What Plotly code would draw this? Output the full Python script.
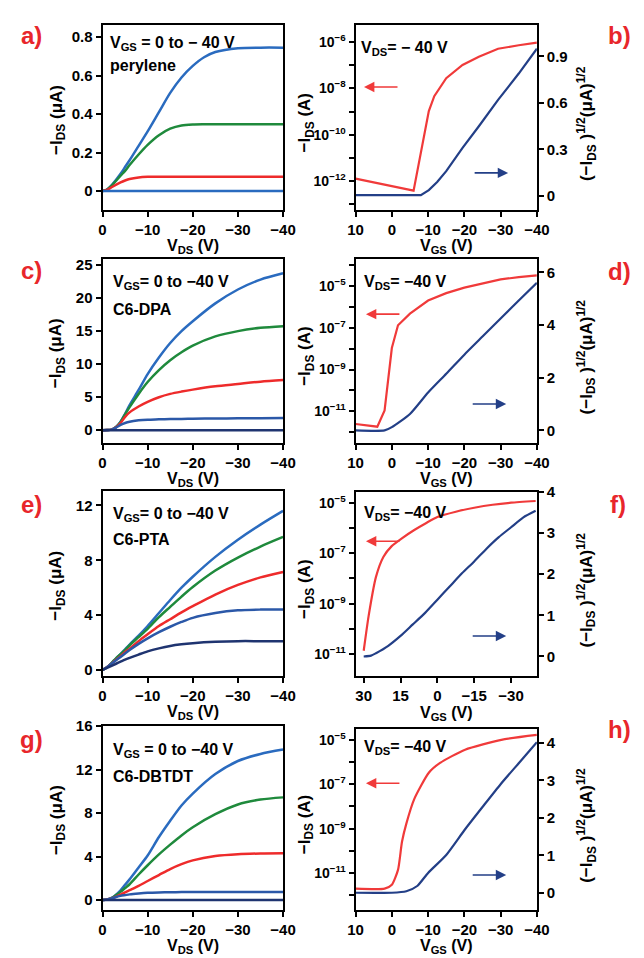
import plotly.graph_objects as go

W, H = 644, 958
FONT = "Arial, Liberation Sans, sans-serif"

# ---------------- data ----------------
# output characteristics (left panels), -I_DS in uA vs V_DS
a_vds = [0, -1, -2, -4, -5, -6, -8, -10, -12.5, -15, -17.5, -20, -22.5, -25, -30, -35, -40]
a_blue = [0, 0.008, 0.03, 0.09, 0.125, 0.16, 0.235, 0.31, 0.41, 0.51, 0.59, 0.65, 0.695, 0.722, 0.742, 0.745, 0.745]
a_green = [0, 0.008, 0.028, 0.08, 0.105, 0.135, 0.19, 0.24, 0.29, 0.324, 0.341, 0.346, 0.347, 0.347, 0.347, 0.347, 0.347]
a_red = [0, 0.006, 0.02, 0.045, 0.055, 0.063, 0.071, 0.074, 0.075, 0.075, 0.075, 0.075, 0.075, 0.075, 0.075, 0.075, 0.075]
a_base = [0, 0, 0, 0, 0, 0, 0, 0, 0, 0, 0, 0, 0, 0, 0, 0, 0]

ceg_vds = [0, -1, -2, -3, -4, -5, -6, -8, -10, -12.5, -15, -17.5, -20, -25, -30, -35, -40]
c_blue = [0, 0.02, 0.1, 0.5, 1.3, 2.5, 3.8, 6.1, 8.5, 11.0, 13.2, 15.0, 16.5, 19.2, 21.3, 22.8, 23.75]
c_green = [0, 0.02, 0.1, 0.5, 1.25, 2.4, 3.5, 5.5, 7.3, 9.1, 10.6, 11.8, 12.8, 14.2, 15.0, 15.5, 15.75]
c_red = [0, 0.02, 0.1, 0.45, 1.1, 2.0, 2.7, 3.6, 4.3, 5.0, 5.5, 5.85, 6.15, 6.65, 7.0, 7.35, 7.6]
c_blue2 = [0, 0.02, 0.1, 0.4, 0.8, 1.1, 1.3, 1.5, 1.6, 1.65, 1.7, 1.72, 1.75, 1.78, 1.8, 1.83, 1.85]
c_navy = [0, 0, 0, 0, 0, 0, 0, 0, 0, 0, 0, 0, 0, 0, 0, 0, 0]

e_blue = [0, 0.2, 0.5, 0.85, 1.15, 1.5, 1.85, 2.5, 3.2, 4.15, 5.1, 6.0, 6.8, 8.25, 9.5, 10.6, 11.6]
e_green = [0, 0.2, 0.5, 0.85, 1.15, 1.45, 1.8, 2.4, 3.0, 3.85, 4.6, 5.35, 6.05, 7.25, 8.2, 9.0, 9.7]
e_red = [0, 0.2, 0.45, 0.75, 1.0, 1.3, 1.55, 2.1, 2.6, 3.2, 3.7, 4.2, 4.65, 5.5, 6.2, 6.75, 7.15]
e_blue2 = [0, 0.2, 0.45, 0.7, 0.95, 1.2, 1.45, 1.9, 2.3, 2.75, 3.15, 3.5, 3.8, 4.15, 4.35, 4.4, 4.4]
e_navy = [0, 0.15, 0.3, 0.45, 0.6, 0.75, 0.88, 1.12, 1.35, 1.57, 1.75, 1.87, 1.95, 2.05, 2.1, 2.1, 2.1]

g_blue = [0, 0.05, 0.2, 0.5, 0.9, 1.4, 1.9, 3.0, 4.1, 5.8, 7.3, 8.7, 9.8, 11.6, 12.8, 13.45, 13.85]
g_green = [0, 0.05, 0.18, 0.45, 0.75, 1.1, 1.45, 2.35, 3.2, 4.2, 5.1, 5.95, 6.7, 7.9, 8.8, 9.25, 9.45]
g_red = [0, 0.04, 0.14, 0.3, 0.5, 0.7, 0.9, 1.3, 1.75, 2.3, 2.85, 3.3, 3.65, 4.05, 4.22, 4.28, 4.3]
g_blue2 = [0, 0.04, 0.14, 0.28, 0.38, 0.45, 0.52, 0.6, 0.66, 0.7, 0.72, 0.73, 0.73, 0.73, 0.73, 0.73, 0.73]
g_navy = [0, 0, 0, 0, 0, 0, 0, 0, 0, 0, 0, 0, 0, 0, 0, 0, 0]

# transfer characteristics (right panels): -I_DS (A) log, sqrt(-I_DS) (uA^1/2)
b_vgs_log = [10, -6, -10.2, -11.7, -15, -19.5, -24, -29.3, -35, -40]
b_ids = [1.3e-12, 3.9e-13, 1.05e-9, 4.6e-9, 2.75e-8, 1.02e-7, 2.3e-7, 5.1e-7, 7.2e-7, 9.3e-7]
b_vgs_sqrt = [10, -8, -10.2, -12.5, -15, -19.5, -24, -29.3, -35, -40]
b_sqrt = [0.005, 0.005, 0.038, 0.09, 0.16, 0.31, 0.45, 0.62, 0.79, 0.95]

d_vgs_log = [10, 4, 2, 0, -1.7, -5, -10, -15, -20, -25, -30, -35, -40]
d_ids = [2.5e-12, 1.86e-12, 1.12e-11, 1.07e-8, 1.32e-7, 4.7e-7, 2.0e-6, 4.5e-6, 8.3e-6, 1.32e-5, 2.04e-5, 2.63e-5, 3.16e-5]
d_vgs_sqrt = [10, 2, 0, -5, -10, -15, -20, -25, -30, -35, -40]
d_sqrt = [0.0, 0.0, 0.125, 0.625, 1.44, 2.15, 2.875, 3.56, 4.25, 4.93, 5.6]

f_vgs_log = [30, 28, 25, 22, 18.6, 14.6, 9.4, 4.5, 0, -7.5, -15, -22.5, -30, -40]
f_ids = [1.35e-11, 3.2e-10, 1.15e-8, 7.1e-8, 1.9e-7, 3.8e-7, 8.3e-7, 1.58e-6, 2.7e-6, 4.4e-6, 6.3e-6, 8.3e-6, 1.0e-5, 1.17e-5]
f_vgs_sqrt = [30, 27, 25, 20, 15, 10, 5, 0, -5, -10, -15, -20, -25, -30, -35, -40]
f_sqrt = [0.0, 0.02, 0.08, 0.26, 0.5, 0.78, 1.06, 1.38, 1.7, 2.02, 2.31, 2.62, 2.9, 3.14, 3.38, 3.54]

h_vgs_log = [10, 2, 0, -1.7, -2.8, -4, -6.2, -10.2, -13.3, -20.2, -30.2, -40]
h_ids = [2.0e-12, 2.0e-12, 3.0e-12, 1.4e-11, 2.6e-10, 1.7e-9, 2.2e-8, 3.3e-7, 9.1e-7, 3.6e-6, 1.0e-5, 1.66e-5]
h_vgs_sqrt = [10, 0, -4, -7, -10, -15, -20, -25, -30, -35, -40]
h_sqrt = [0, 0, 0.04, 0.18, 0.53, 1.01, 1.67, 2.29, 2.9, 3.46, 4.02]

left_xticks = [0, -10, -20, -30, -40]
right_xticks = [10, 0, -10, -20, -30, -40]
f_xticks = [30, 15, 0, -15, -30]

BLUE = "#2a6bbf"
GREEN = "#1f8a3c"
RED = "#ee2b2b"
BLUE2 = "#2b58a8"
NAVY = "#1f3470"
TRED = "#f03a3a"
TNAVY = "#233f87"


def mtxt(v):
    s = ("%g" % v)
    return s.replace("-", "\u2212")


def fx(x):
    return x / W


def fy(y):
    return 1 - y / H


LX = [97.7, 284.3]
RX = [359.3, 546.7]
rows = {
    "a": (16.7, 203.3), "b": (16.7, 203.3),
    "c": (253.3, 439.3), "d": (253.3, 439.3),
    "e": (488.3, 675.0), "f": (489.0, 675.7),
    "g": (726.0, 912.0), "h": (729.3, 912.0),
}

tickfont = dict(family=FONT, size=15, color="black", weight="bold")
logfont = dict(family=FONT, size=14, color="black", weight="bold")
base_axis = dict(showline=True, linecolor="black", linewidth=2, ticks="outside", ticklen=5,
                 tickwidth=2, tickcolor="black", showgrid=False, zeroline=False, tickfont=tickfont)

fig = go.Figure()
layout = dict(width=W, height=H, margin=dict(l=0, r=0, t=0, b=0), paper_bgcolor="white",
              plot_bgcolor="white", showlegend=False)

panels = ["a", "b", "c", "d", "e", "f", "g", "h"]
sec_map = {"b": 9, "d": 10, "f": 11, "h": 12}

left_data = {
    "a": (a_vds, [(a_blue, BLUE), (a_green, GREEN), (a_red, RED), (a_base, BLUE)]),
    "c": (ceg_vds, [(c_blue, BLUE), (c_green, GREEN), (c_red, RED), (c_blue2, BLUE2), (c_navy, NAVY)]),
    "e": (ceg_vds, [(e_blue, BLUE), (e_green, GREEN), (e_red, RED), (e_blue2, BLUE2), (e_navy, NAVY)]),
    "g": (ceg_vds, [(g_blue, BLUE), (g_green, GREEN), (g_red, RED), (g_blue2, BLUE2), (g_navy, NAVY)]),
}
left_y = {
    "a": ([-0.097, 0.86], [0, 0.2, 0.4, 0.6, 0.8], ["0", "0.2", "0.4", "0.6", "0.8"]),
    "c": ([-1.9, 25.9], [0, 5, 10, 15, 20, 25], ["0", "5", "10", "15", "20", "25"]),
    "e": ([-0.41, 13.04], [0, 4, 8, 12], ["0", "4", "8", "12"]),
    "g": ([-0.88, 16.03], [0, 4, 8, 12, 16], ["0", "4", "8", "12", "16"]),
}
right_data = {
    "b": (b_vgs_log, b_ids, b_vgs_sqrt, b_sqrt, "linear", "linear"),
    "d": (d_vgs_log, d_ids, d_vgs_sqrt, d_sqrt, "linear", "spline"),
    "f": (f_vgs_log, f_ids, f_vgs_sqrt, f_sqrt, "spline", "spline"),
    "h": (h_vgs_log, h_ids, h_vgs_sqrt, h_sqrt, "spline", "spline"),
}
right_log = {
    "b": ([-13.23, -5.29], [-12, -10, -8, -6], [-13, -11, -9, -7]),
    "d": ([-12.5, -3.72], [-11, -9, -7, -5], [-12, -10, -8, -6, -4]),
    "f": ([-11.88, -4.57], [-11, -9, -7, -5], [-10, -8, -6]),
    "h": ([-12.64, -4.52], [-11, -9, -7, -5], [-12, -10, -8, -6]),
}
right_lin = {
    "b": ([-0.089, 1.10], [0, 0.3, 0.6, 0.9], ["0", "0.3", "0.6", "0.9"]),
    "d": ([-0.47, 6.5], [0, 2, 4, 6], ["0", "2", "4", "6"]),
    "f": ([-0.48, 4.0], [0, 1, 2, 3, 4], ["0", "1", "2", "3", "4"]),
    "h": ([-0.45, 4.37], [0, 1, 2, 3, 4], ["0", "1", "2", "3", "4"]),
}

annotations = []
for i, p in enumerate(panels, start=1):
    top, bot = rows[p]
    xs = "" if i == 1 else str(i)
    is_left = p in left_data
    xdom = LX if is_left else RX
    xa = dict(base_axis, domain=[fx(xdom[0]), fx(xdom[1])], anchor="y" + xs, mirror=True)
    if is_left:
        xa.update(range=[0, -40], tickvals=left_xticks, ticktext=[mtxt(v) for v in left_xticks])
    elif p == "f":
        xa.update(range=[33.3, -40.5], tickvals=f_xticks, ticktext=[mtxt(v) for v in f_xticks])
    else:
        xa.update(range=[10, -40], tickvals=right_xticks, ticktext=[mtxt(v) for v in right_xticks])
    layout["xaxis" + xs] = xa

    ya = dict(base_axis, domain=[fy(bot), fy(top)], anchor="x" + xs, mirror=True)
    if is_left:
        rng, tv, tt = left_y[p]
        ya.update(range=rng, tickvals=tv, ticktext=tt)
        vx, curves = left_data[p]
        for yv, col in curves:
            fig.add_trace(go.Scatter(x=vx, y=yv, mode="lines", xaxis="x" + xs, yaxis="y" + xs,
                                     line=dict(color=col, width=2.5, shape="spline", smoothing=0.8)))
    else:
        rng, labs, minors = right_log[p]
        ya.update(type="log", range=rng, tickvals=[10.0 ** e for e in labs], tickfont=logfont,
                  ticktext=["10<sup>\u2212%d</sup>" % (-e) for e in labs],
                  minor=dict(tickvals=[10.0 ** e for e in minors], ticks="outside", ticklen=5,
                             tickwidth=2, tickcolor="black", showgrid=False))
        sn = sec_map[p]
        lrng, ltv, ltt = right_lin[p]
        layout["yaxis%d" % sn] = dict(base_axis, overlaying="y" + xs, side="right", anchor="x" + xs,
                                      range=lrng, tickvals=ltv, ticktext=ltt, mirror=False)
        vl, il, vs, sq, shl, shs = right_data[p]
        fig.add_trace(go.Scatter(x=vl, y=il, mode="lines", xaxis="x" + xs, yaxis="y" + xs,
                                 line=dict(color=TRED, width=2.2, shape=shl, smoothing=0.6)))
        fig.add_trace(go.Scatter(x=vs, y=sq, mode="lines", xaxis="x" + xs, yaxis="y%d" % sn,
                                 line=dict(color=TNAVY, width=2.2, shape=shs, smoothing=0.6)))
    layout["yaxis" + xs] = ya

    # x-axis titles
    cx = (xdom[0] + xdom[1]) / 2
    xt = "V<sub>DS</sub> (V)" if is_left else "V<sub>GS</sub> (V)"
    annotations.append(dict(text=xt, x=fx(cx), y=fy(bot + 26), xref="paper", yref="paper",
                            xanchor="center", yanchor="top", showarrow=False,
                            font=dict(family=FONT, size=16, color="black", weight="bold")))
    cy = (top + bot) / 2
    if is_left:
        annotations.append(dict(text="\u2212I<sub>DS</sub> (\u03bcA)", x=fx(51), y=fy(cy + 2), xref="paper",
                                yref="paper", xanchor="center", yanchor="middle", textangle=-90,
                                showarrow=False, font=dict(family=FONT, size=17, color="black", weight="bold")))
    else:
        annotations.append(dict(text="\u2212I<sub>DS</sub> (A)", x=fx(308), y=fy(cy + 5), xref="paper",
                                yref="paper", xanchor="center", yanchor="middle", textangle=-90,
                                showarrow=False, font=dict(family=FONT, size=17, color="black", weight="bold")))
        annotations.append(dict(text="(\u2212I<sub>DS</sub> )<sup>1/2</sup>(\u03bcA)<sup>1/2</sup>", x=fx(598),
                                y=fy(cy + 6), xref="paper", yref="paper", xanchor="center", yanchor="middle",
                                textangle=-90, showarrow=False,
                                font=dict(family=FONT, size=17, color="black", weight="bold")))

# panel letters
letters = {"a": (24, 27), "b": (632, 27), "c": (24, 265), "d": (632, 266),
           "e": (24, 502), "f": (631, 502), "g": (24, 740), "h": (632, 730)}
for k, (x, y) in letters.items():
    annotations.append(dict(text=k + ")", x=fx(x), y=fy(y), xref="paper", yref="paper", xanchor="center",
                            yanchor="middle", showarrow=False,
                            font=dict(family=FONT, size=24, color="#e8262b", weight="bold")))

# inner labels
inner = [
    ("V<sub>GS</sub> = 0 to \u2212 40 V", 103, 35), ("perylene", 103, 57),
    ("V<sub>GS</sub>= 0 to \u221240 V", 106, 277), ("C6-DPA", 106, 304),
    ("V<sub>GS</sub>= 0 to \u221240 V", 106, 512), ("C6-PTA", 106, 537),
    ("V<sub>GS</sub> = 0 to \u221240 V", 106, 751), ("C6-DBTDT", 106, 777),
    ("V<sub>DS</sub>= \u2212 40 V", 363, 40), ("V<sub>DS</sub>= \u221240 V", 366, 277),
    ("V<sub>DS</sub>= \u221240 V", 366, 511), ("V<sub>DS</sub>= \u221240 V", 366, 748),
]
for t, x, y in inner:
    annotations.append(dict(text=t, x=fx(x), y=fy(y), xref="paper", yref="paper", xanchor="left",
                            yanchor="middle", showarrow=False,
                            font=dict(family=FONT, size=16, color="black", weight="bold")))

# arrows
red_arrows = [(368, 79), (370, 309), (370, 539), (370, 784)]
blue_arrows = [(517, 166), (515, 400), (515, 635), (515, 877)]
for x, y in red_arrows:
    annotations.append(dict(text="", x=fx(x), y=fy(y), xref="paper", yref="paper", ax=35, ay=0,
                            showarrow=True, arrowhead=2, arrowsize=1.3, arrowwidth=1.6, arrowcolor=TRED))
for x, y in blue_arrows:
    annotations.append(dict(text="", x=fx(x), y=fy(y), xref="paper", yref="paper", ax=-35, ay=0,
                            showarrow=True, arrowhead=2, arrowsize=1.3, arrowwidth=1.6, arrowcolor=TNAVY))

layout["annotations"] = annotations
fig.update_layout(**layout)
fig.write_html("out.html")
